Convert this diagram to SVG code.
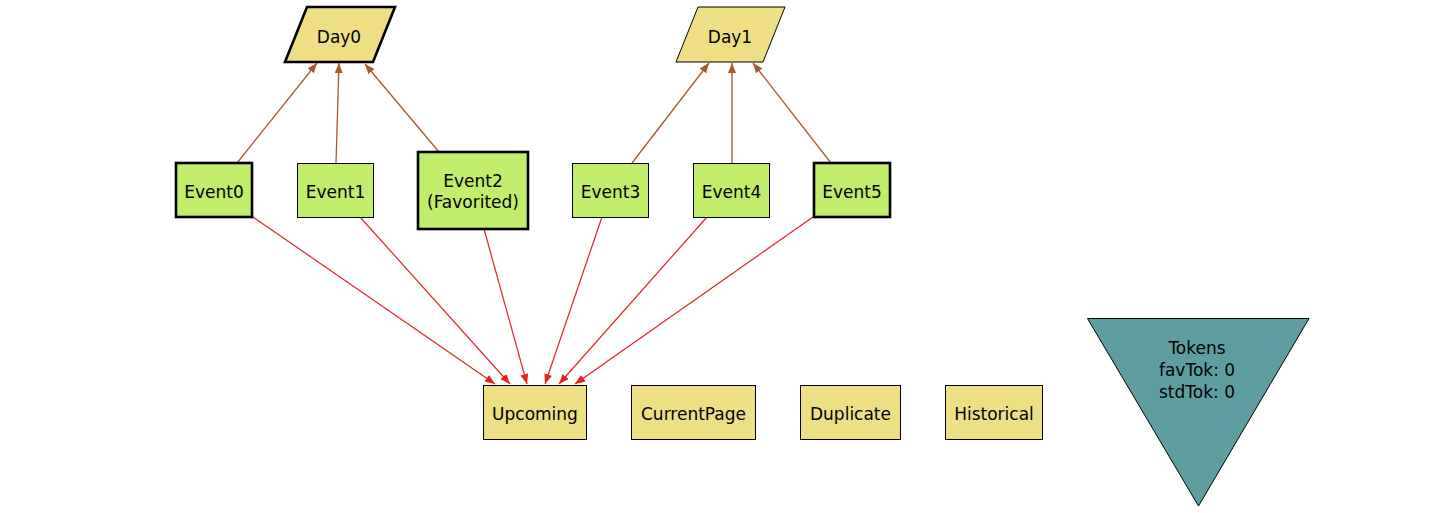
<svg xmlns="http://www.w3.org/2000/svg" width="1440" height="513" viewBox="0 0 1440 513">
<style>
text{font-family:"DejaVu Sans","Liberation Sans",sans-serif;font-size:17px;fill:#000;text-anchor:middle}
.ev{fill:#c0ee6b;stroke:#000;stroke-width:1}
.evb{fill:#c0ee6b;stroke:#000;stroke-width:2.6}
.yl{fill:#eedf85;stroke:#000;stroke-width:1}
.ylb{fill:#eedf85;stroke:#000;stroke-width:2.6}
.br{stroke:#a9592a;stroke-width:1.3;fill:none;marker-end:url(#ab)}
.rd{stroke:#e62222;stroke-width:1.2;fill:none;marker-end:url(#ar)}
</style>
<defs>
<marker id="ab" viewBox="0 0 10 8" refX="10" refY="4" markerWidth="10" markerHeight="8" markerUnits="userSpaceOnUse" orient="auto"><path d="M0,0 L10,4 L0,8 z" fill="#a9592a"/></marker>
<marker id="ar" viewBox="0 0 10 8" refX="10" refY="4" markerWidth="10" markerHeight="8" markerUnits="userSpaceOnUse" orient="auto"><path d="M0,0 L10,4 L0,8 z" fill="#e62222"/></marker>
</defs>
<rect width="1440" height="513" fill="#fff"/>
<g id="connectors">
<line class="br" x1="237" y1="163" x2="317" y2="63"/>
<line class="br" x1="336" y1="163" x2="339" y2="63"/>
<line class="br" x1="439" y1="152" x2="365" y2="64"/>
<line class="br" x1="632" y1="163" x2="709" y2="63"/>
<line class="br" x1="732" y1="163" x2="732" y2="63"/>
<line class="br" x1="831" y1="163" x2="753" y2="63"/>
<line class="rd" x1="253" y1="217" x2="495" y2="384"/>
<line class="rd" x1="360" y1="217" x2="510" y2="384"/>
<line class="rd" x1="484" y1="229" x2="527" y2="384"/>
<line class="rd" x1="602" y1="217" x2="545" y2="384"/>
<line class="rd" x1="707" y1="217" x2="559" y2="384"/>
<line class="rd" x1="813" y1="217" x2="575" y2="384"/>
</g>
<g id="Day0"><polygon class="ylb" points="307,7 395,7 373,62 285,62"/><text x="339" y="42.5">Day0</text></g>
<g id="Day1"><polygon class="yl" points="698,7 785,7 763,62 676,62"/><text x="730" y="42.5">Day1</text></g>
<g id="Event0"><rect class="evb" x="176" y="163" width="76" height="54"/><text x="214" y="198">Event0</text></g>
<g id="Event1"><rect class="ev" x="297.5" y="163.5" width="76" height="54"/><text x="335.5" y="198">Event1</text></g>
<g id="Event2"><rect class="evb" x="418" y="152" width="110" height="77"/><text x="473" y="187">Event2</text><text x="473" y="207.5">(Favorited)</text></g>
<g id="Event3"><rect class="ev" x="572.5" y="163.5" width="76" height="54"/><text x="610.5" y="198">Event3</text></g>
<g id="Event4"><rect class="ev" x="693.5" y="163.5" width="76" height="54"/><text x="731.5" y="198">Event4</text></g>
<g id="Event5"><rect class="evb" x="814" y="163" width="76" height="54"/><text x="852" y="198">Event5</text></g>
<g id="Upcoming"><rect class="yl" x="483.5" y="385.5" width="103" height="54"/><text x="535" y="420">Upcoming</text></g>
<g id="CurrentPage"><rect class="yl" x="631.5" y="385.5" width="124" height="54"/><text x="693.5" y="420">CurrentPage</text></g>
<g id="Duplicate"><rect class="yl" x="800.5" y="385.5" width="100" height="54"/><text x="850.5" y="420">Duplicate</text></g>
<g id="Historical"><rect class="yl" x="945.5" y="385.5" width="97" height="54"/><text x="994" y="420">Historical</text></g>
<g id="Tokens"><polygon points="1087.5,318.5 1309,318.5 1198.5,506" fill="#5f9ea0" stroke="#000" stroke-width="1"/><text x="1197" y="353.5">Tokens</text><text x="1197" y="376">favTok: 0</text><text x="1197" y="398">stdTok: 0</text></g>
</svg>
